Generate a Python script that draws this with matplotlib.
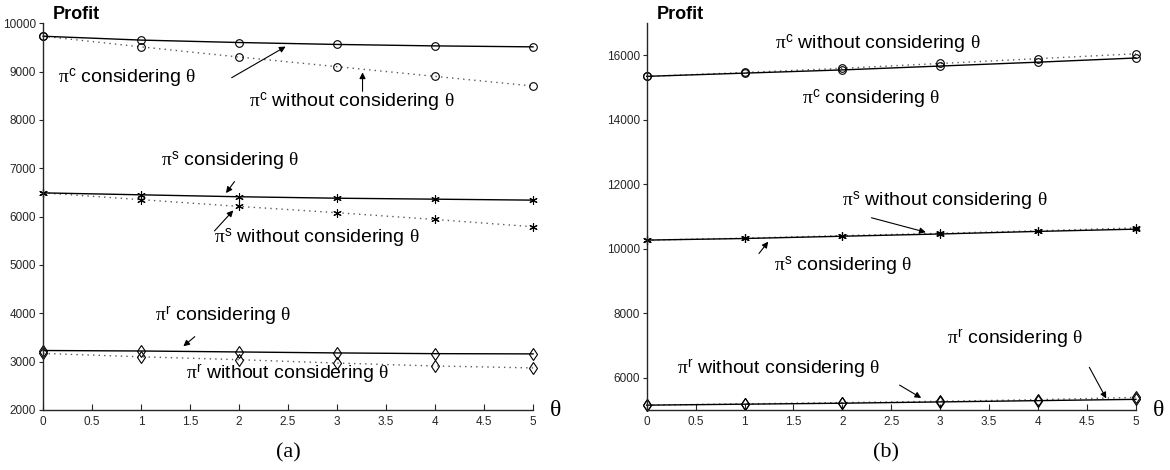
"""Profit vs theta, with and without considering theta: panels (a) and (b)"""

import numpy as np
import matplotlib
matplotlib.use('Agg')
import matplotlib.pyplot as plt

plt.rcParams['font.family'] = ['Liberation Sans', 'DejaVu Sans']
plt.rcParams['mathtext.fontset'] = 'custom'
plt.rcParams['mathtext.rm'] = 'Liberation Serif'
plt.rcParams['mathtext.it'] = 'Liberation Serif:italic'
plt.rcParams['mathtext.sf'] = 'Liberation Sans'

theta = [0, 1, 2, 3, 4, 5]

# panel (a)
a_c_cons = [9730, 9650, 9600, 9560, 9530, 9510]
a_c_wo = [9730, 9510, 9300, 9100, 8900, 8700]
a_s_cons = [6490, 6450, 6410, 6380, 6360, 6340]
a_s_wo = [6490, 6350, 6210, 6080, 5940, 5790]
a_r_cons = [3230, 3220, 3200, 3180, 3165, 3160]
a_r_wo = [3170, 3100, 3040, 2970, 2910, 2870]

# panel (b)
b_c_cons = [15350, 15450, 15550, 15670, 15790, 15920]
b_c_wo = [15350, 15470, 15600, 15750, 15900, 16050]
b_s_cons = [10270, 10320, 10390, 10460, 10540, 10610]
b_s_wo = [10270, 10330, 10410, 10480, 10560, 10650]
b_r_cons = [5150, 5180, 5210, 5250, 5290, 5330]
b_r_wo = [5150, 5190, 5230, 5270, 5320, 5390]

STAR = (6, 2, 0)
DOT = (0, (1, 3))


def lbl(sup, without=False):
    mid = ' without considering ' if without else ' considering '
    return r'$\mathrm{\pi}^{\mathsf{%s}}$' % sup + mid + r'$\mathrm{\theta}$'


def curvas(ax, cons, wo, marker, ms):
    ax.plot(theta, wo, color='0.35', linestyle=DOT, lw=1.0, marker=marker,
            ms=ms, mfc='none', mec='k', mew=0.8, clip_on=False)
    ax.plot(theta, cons, color='k', linestyle='-', lw=1.0, marker=marker,
            ms=ms, mfc='none', mec='k', mew=0.8, clip_on=False)


def ejes(ax, ylo, yhi, yticks):
    ax.set_xlim(0, 5)
    ax.set_ylim(ylo, yhi)
    ax.set_xticks(np.arange(0, 5.01, 0.5))
    ax.set_xticklabels(['0', '0.5', '1', '1.5', '2', '2.5', '3', '3.5', '4', '4.5', '5'])
    ax.set_yticks(yticks)
    ax.spines['top'].set_visible(False)
    ax.spines['right'].set_visible(False)
    for s in ('left', 'bottom'):
        ax.spines[s].set_linewidth(1.0)
        ax.spines[s].set_color('0.15')
    ax.tick_params(axis='x', direction='in', length=4, labelsize=8.5, pad=4, colors='0.15')
    ax.tick_params(axis='y', direction='out', length=3, labelsize=8.5, pad=2, colors='0.15')
    ax.text(0.02, 1.0, 'Profit', transform=ax.transAxes, fontsize=13, fontweight='bold',
            ha='left', va='bottom')
    ax.text(1.045, 0.0, r'$\mathrm{\theta}$', transform=ax.transAxes, fontsize=17,
            ha='center', va='center')


def flecha(ax, head, tail):
    ax.annotate('', xy=head, xytext=tail,
                arrowprops=dict(arrowstyle='-|>', color='k', lw=0.8, mutation_scale=9))


fig = plt.figure(figsize=(11.7, 4.7), dpi=100)
ax1 = fig.add_axes([0.0368, 0.1277, 0.4188, 0.823])
ax2 = fig.add_axes([0.5527, 0.1277, 0.4182, 0.823])

# (a)
curvas(ax1, a_c_cons, a_c_wo, 'o', 5.5)
curvas(ax1, a_s_cons, a_s_wo, STAR, 6)
curvas(ax1, a_r_cons, a_r_wo, 'd', 6)
ejes(ax1, 2000, 10000, range(2000, 10001, 1000))
fs = 14
ax1.text(0.15, 8860, lbl('c'), fontsize=fs, va='center')
flecha(ax1, (2.5, 9545), (1.9, 8843))
ax1.text(2.1, 8370, lbl('c', True), fontsize=fs, va='center')
flecha(ax1, (3.26, 9040), (3.26, 8533))
ax1.text(1.2, 7150, lbl('s'), fontsize=fs, va='center')
flecha(ax1, (1.85, 6440), (1.97, 6770))
ax1.text(1.74, 5560, lbl('s', True), fontsize=fs, va='center')
flecha(ax1, (1.96, 6170), (1.73, 5661))
ax1.text(1.14, 3950, lbl('r'), fontsize=fs, va='center')
flecha(ax1, (1.41, 3280), (1.57, 3554))
ax1.text(1.46, 2760, lbl('r', True), fontsize=fs, va='center')
ax1.text(0.5, -0.085, '(a)', transform=ax1.transAxes, fontsize=16,
         family='Liberation Serif', ha='center', va='top')

# (b)
curvas(ax2, b_c_cons, b_c_wo, 'o', 5.5)
curvas(ax2, b_s_cons, b_s_wo, STAR, 6)
curvas(ax2, b_r_cons, b_r_wo, 'd', 6)
ejes(ax2, 5000, 17000, range(6000, 16001, 2000))
ax2.text(1.31, 16340, lbl('c', True), fontsize=fs, va='center')
ax2.text(1.59, 14650, lbl('c'), fontsize=fs, va='center')
ax2.text(2.0, 11460, lbl('s', True), fontsize=fs, va='center')
flecha(ax2, (2.88, 10492), (2.27, 10985))
ax2.text(1.3, 9470, lbl('s'), fontsize=fs, va='center')
flecha(ax2, (1.26, 10290), (1.13, 9785))
ax2.text(0.31, 6270, lbl('r', True), fontsize=fs, va='center')
flecha(ax2, (2.83, 5330), (2.56, 5815))
ax2.text(3.07, 7220, lbl('r'), fontsize=fs, va='center')
flecha(ax2, (4.71, 5280), (4.51, 6400))
ax2.text(0.49, -0.085, '(b)', transform=ax2.transAxes, fontsize=16,
         family='Liberation Serif', ha='center', va='top')

plt.savefig('out.png', dpi=100)
